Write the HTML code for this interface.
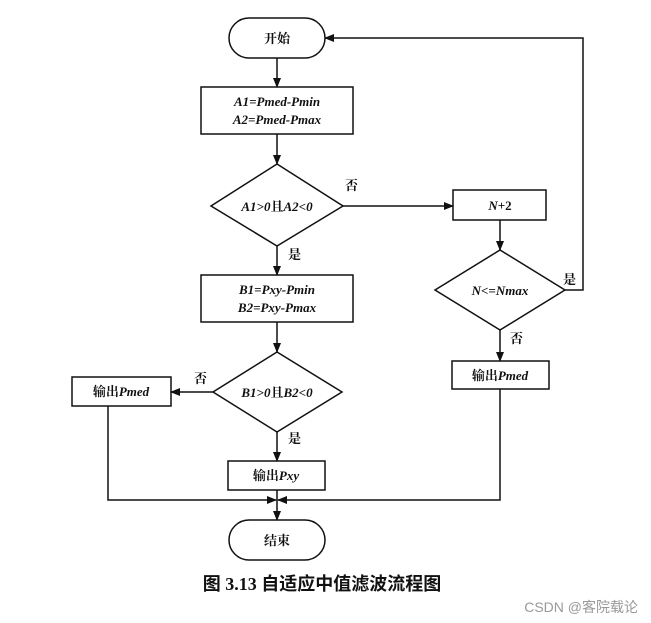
<!DOCTYPE html>
<html><head><meta charset="utf-8"><style>
body{margin:0;background:#fff;}
svg{display:block}
.t{font-family:"Liberation Serif","Noto Serif CJK SC",serif;font-size:13px;font-style:italic;font-weight:bold;fill:#111}
.c{font-family:"Liberation Serif","Noto Serif CJK SC",serif;font-size:13px;font-weight:bold;fill:#111}
</style></head><body>
<svg width="651" height="623" viewBox="0 0 651 623" xmlns="http://www.w3.org/2000/svg">
<defs><marker id="a" markerWidth="10" markerHeight="8" refX="9" refY="4" orient="auto" markerUnits="userSpaceOnUse"><path d="M0,0 L10,4 L0,8z" fill="#111"/></marker></defs>
<g stroke="#111" stroke-width="1.5" fill="none">
<rect x="229" y="18" width="96" height="40" rx="20"/>
<rect x="201" y="87" width="152" height="47"/>
<polygon points="277,164 343,206 277,246 211,206"/>
<rect x="453" y="190" width="93" height="30"/>
<polygon points="500,250 565,290 500,330 435,290"/>
<rect x="452" y="361" width="97" height="28"/>
<rect x="201" y="275" width="152" height="47"/>
<polygon points="277,352 342,392 277,432 213,392"/>
<rect x="72" y="377" width="99" height="29"/>
<rect x="228" y="461" width="97" height="29"/>
<rect x="229" y="520" width="96" height="40" rx="20"/>
<line x1="277" y1="58" x2="277" y2="87" marker-end="url(#a)"/>
<line x1="277" y1="134" x2="277" y2="164" marker-end="url(#a)"/>
<line x1="343" y1="206" x2="453" y2="206" marker-end="url(#a)"/>
<line x1="500" y1="220" x2="500" y2="250" marker-end="url(#a)"/>
<polyline points="565,290 583,290 583,38 325,38" marker-end="url(#a)"/>
<line x1="500" y1="330" x2="500" y2="361" marker-end="url(#a)"/>
<line x1="277" y1="246" x2="277" y2="275" marker-end="url(#a)"/>
<line x1="277" y1="322" x2="277" y2="352" marker-end="url(#a)"/>
<line x1="213" y1="392" x2="171" y2="392" marker-end="url(#a)"/>
<line x1="277" y1="432" x2="277" y2="461" marker-end="url(#a)"/>
<line x1="277" y1="490" x2="277" y2="520" marker-end="url(#a)"/>
<polyline points="108,406 108,500 276,500" marker-end="url(#a)"/>
<polyline points="500,389 500,500 278,500" marker-end="url(#a)"/>
</g>
<text class="c" x="277" y="43" text-anchor="middle">开始</text>
<text class="t" x="277" y="106" text-anchor="middle">A1=Pmed-Pmin</text>
<text class="t" x="277" y="124" text-anchor="middle">A2=Pmed-Pmax</text>
<text class="t" x="277" y="211" text-anchor="middle">A1&gt;0<tspan font-style="normal">且</tspan>A2&lt;0</text>
<text class="c" x="345" y="190">否</text>
<text class="c" x="288" y="259">是</text>
<text class="t" x="500" y="210" text-anchor="middle">N<tspan font-style="normal">+2</tspan></text>
<text class="t" x="500" y="295" text-anchor="middle">N&lt;=Nmax</text>
<text class="c" x="563" y="284">是</text>
<text class="c" x="510" y="343">否</text>
<text class="c" x="500" y="380" text-anchor="middle">输出<tspan font-style="italic">Pmed</tspan></text>
<text class="t" x="277" y="294" text-anchor="middle">B1=Pxy-Pmin</text>
<text class="t" x="277" y="312" text-anchor="middle">B2=Pxy-Pmax</text>
<text class="t" x="277" y="397" text-anchor="middle">B1&gt;0<tspan font-style="normal">且</tspan>B2&lt;0</text>
<text class="c" x="194" y="383">否</text>
<text class="c" x="288" y="443">是</text>
<text class="c" x="121" y="396" text-anchor="middle">输出<tspan font-style="italic">Pmed</tspan></text>
<text class="c" x="276" y="480" text-anchor="middle">输出<tspan font-style="italic">Pxy</tspan></text>
<text class="c" x="277" y="545" text-anchor="middle">结束</text>
<text x="322" y="590" text-anchor="middle" style="font-family:'Liberation Serif','Noto Sans CJK SC',sans-serif;font-size:18px;font-weight:bold;fill:#111">图 3.13  自适应中值滤波流程图</text>
<text x="638" y="612" text-anchor="end" style="font-family:'Liberation Sans','Noto Sans CJK SC',sans-serif;font-size:14px;fill:#999">CSDN @客院载论</text>
</svg>
</body></html>
